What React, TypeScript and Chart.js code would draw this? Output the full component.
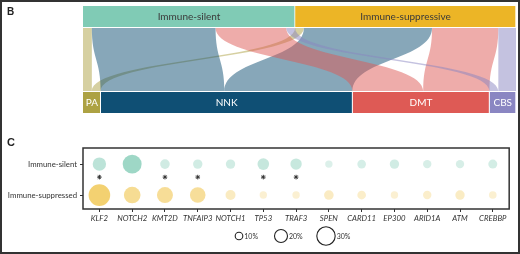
import React, { useEffect, useRef } from 'react';
import { Chart, registerables } from 'chart.js';

Chart.register(...registerables);
Chart.defaults.font.family = 'Lato, "Open Sans", sans-serif';

// ---------- Panel B data (Sankey) ----------
const immuneGroups = ['Immune-silent', 'Immune-suppressive'];
const carcinogens = ['PA', 'NNK', 'DMT', 'CBS'];
// counts per carcinogen: [to Immune-silent, to Immune-suppressive]
const flowPA = [2, 2];
const flowNNK = [28, 29];
const flowDMT = [16, 15];
const flowCBS = [2, 4];
const flows = [flowPA, flowNNK, flowDMT, flowCBS];

// ---------- Panel C data (bubbles) ----------
const genes = ['KLF2', 'NOTCH2', 'KMT2D', 'TNFAIP3', 'NOTCH1', 'TP53', 'TRAF3', 'SPEN', 'CARD11', 'EP300', 'ARID1A', 'ATM', 'CREBBP'];
const rowLabels = ['Immune-suppressed', 'Immune-silent']; // y = 0, y = 1
const silentFreq = [20.7, 31, 13.7, 13.3, 13.3, 17.4, 17, 9.6, 11.9, 13.3, 11.5, 11.5, 12.6];
const suppressedFreq = [36, 26.7, 25.6, 24.8, 14.4, 9.6, 9.6, 13.7, 11.9, 9.6, 11.5, 13.3, 10];
const significantGenes = ['KLF2', 'KMT2D', 'TNFAIP3', 'TP53', 'TRAF3'];
const legendSizes = [10, 20, 30];

// ---------- styles ----------
const groupColors = ['#80cbb5', '#ecb526'];
const groupText = ['#3a3a3a', '#3a3a3a'];
const carcColors = ['#ada243', '#0f4f74', '#de5a55', '#8a86c2'];
const flowColors = ['rgba(173,162,67,0.5)', 'rgba(15,79,116,0.5)', 'rgba(222,90,85,0.5)', 'rgba(138,134,194,0.5)'];
const BAR_H = 21;

const radiusFor = (p: number) => 1.1 + 0.27 * p;
const alphaFor = (p: number) => Math.min(1, 0.05 + 0.02 * p);

function SankeyPanel() {
  const ref = useRef<HTMLCanvasElement>(null);
  useEffect(() => {
    const groupTotals = immuneGroups.map((_, g) => flows.reduce((s, f) => s + f[g], 0));
    const carcTotals = flows.map((f) => f.reduce((s, v) => s + v, 0));
    const total = carcTotals.reduce((s, v) => s + v, 0);

    const datasets: any[] = [
      ...immuneGroups.map((name, g) => ({
        label: name,
        data: [groupTotals[g], null],
        backgroundColor: groupColors[g],
        textColor: groupText[g],
        clip: false,
      })),
      ...carcinogens.map((name, c) => ({
        label: name,
        data: [null, carcTotals[c]],
        backgroundColor: carcColors[c],
        textColor: '#ffffff',
        clip: false,
      })),
    ];

    const flowPlugin = {
      id: 'flows',
      beforeDatasetsDraw(chart: any) {
        const { ctx } = chart;
        const xs = chart.scales.x;
        const ys = chart.scales.y;
        const yt = ys.getPixelForValue(0) + BAR_H / 2 + 1;
        const yb = ys.getPixelForValue(1) - BAR_H / 2 - 1;
        const ym = (yt + yb) / 2;
        const topCursor: number[] = [];
        let acc = 0;
        groupTotals.forEach((t, g) => {
          topCursor[g] = acc;
          acc += t;
        });
        let bottomAcc = 0;
        ctx.save();
        flows.forEach((f, c) => {
          f.forEach((v, g) => {
            const b0 = xs.getPixelForValue(bottomAcc);
            const b1 = xs.getPixelForValue(bottomAcc + v);
            const t0 = xs.getPixelForValue(topCursor[g]);
            const t1 = xs.getPixelForValue(topCursor[g] + v);
            bottomAcc += v;
            topCursor[g] += v;
            ctx.beginPath();
            ctx.moveTo(b0, yb);
            ctx.bezierCurveTo(b0, ym, t0, ym, t0, yt);
            ctx.lineTo(t1, yt);
            ctx.bezierCurveTo(t1, ym, b1, ym, b1, yb);
            ctx.closePath();
            ctx.fillStyle = flowColors[c];
            ctx.fill();
          });
        });
        ctx.restore();
      },
      afterDatasetsDraw(chart: any) {
        const { ctx } = chart;
        ctx.save();
        ctx.font = '10px Lato, sans-serif';
        ctx.textAlign = 'center';
        ctx.textBaseline = 'middle';
        chart.data.datasets.forEach((ds: any, i: number) => {
          const meta = chart.getDatasetMeta(i);
          meta.data.forEach((el: any, j: number) => {
            if (ds.data[j] == null) return;
            const cx = (el.x + el.base) / 2;
            ctx.fillStyle = ds.textColor;
            ctx.fillText(ds.label, cx, el.y + 0.5);
          });
        });
        ctx.restore();
      },
    };

    const chart = new Chart(ref.current!, {
      type: 'bar',
      data: { labels: ['immune', 'carcinogen'], datasets },
      options: {
        indexAxis: 'y',
        animation: false,
        responsive: false,
        devicePixelRatio: 1,
        events: [],
        layout: { padding: { left: 83, right: 4, top: 16.5, bottom: 125 - 102.5 } },
        plugins: { legend: { display: false }, tooltip: { enabled: false } },
        datasets: { bar: { barThickness: BAR_H, borderWidth: { right: 1, left: 0, top: 0, bottom: 0 }, borderColor: '#ffffff', borderSkipped: false } as any },
        scales: {
          x: { type: 'linear', min: 0, max: total, stacked: true, display: false },
          y: { type: 'category', stacked: true, offset: false, display: false },
        },
      },
      plugins: [flowPlugin],
    } as any);
    return () => chart.destroy();
  }, []);
  return <canvas ref={ref} width={520} height={125} style={{ position: 'absolute', left: 0, top: 0 }} />;
}

function BubblePanel() {
  const ref = useRef<HTMLCanvasElement>(null);
  useEffect(() => {
    const teal = '110,195,170';
    const yellow = '240,195,70';
    const boxPlugin = {
      id: 'box',
      afterDraw(chart: any) {
        const { ctx, chartArea: a } = chart;
        ctx.save();
        ctx.strokeStyle = '#333';
        ctx.lineWidth = 1.5;
        ctx.strokeRect(a.left, a.top, a.right - a.left, a.bottom - a.top);
        // size legend
        const centers = [239, 281, 326];
        const cy = 111;
        ctx.lineWidth = 1.1;
        ctx.strokeStyle = '#222';
        ctx.fillStyle = '#333';
        ctx.font = '7px Lato, sans-serif';
        ctx.textBaseline = 'middle';
        ctx.textAlign = 'left';
        legendSizes.forEach((p, i) => {
          const r = radiusFor(p);
          ctx.beginPath();
          ctx.arc(centers[i], cy, r, 0, Math.PI * 2);
          ctx.stroke();
          ctx.fillText(p + '%', centers[i] + r + 1.5, cy + 0.5);
        });
        ctx.restore();
      },
    };

    const chart = new Chart(ref.current!, {
      type: 'bubble',
      data: {
        datasets: [
          {
            label: rowLabels[1],
            data: genes.map((g, i) => ({ x: g, y: 1, r: radiusFor(silentFreq[i]) })),
            backgroundColor: silentFreq.map((p) => `rgba(${teal},${alphaFor(p)})`),
            borderWidth: 0,
          },
          {
            label: rowLabels[0],
            data: genes.map((g, i) => ({ x: g, y: 0, r: radiusFor(suppressedFreq[i]) })),
            backgroundColor: suppressedFreq.map((p) => `rgba(${yellow},${alphaFor(p)})`),
            borderWidth: 0,
          },
          {
            label: 'significant',
            data: significantGenes.map((g) => ({ x: g, y: 0.58, r: 2.3 })),
            pointStyle: 'star',
            borderColor: '#333',
            backgroundColor: '#333',
            borderWidth: 1,
          },
        ],
      },
      options: {
        animation: false,
        responsive: false,
        devicePixelRatio: 1,
        events: [],
        layout: { padding: { left: 0, right: 8, top: 23, bottom: 129 - 84 - 20 } },
        plugins: { legend: { display: false }, tooltip: { enabled: false } },
        scales: {
          x: {
            type: 'category',
            labels: genes,
            offset: true,
            ticks: { font: { size: 7.8, style: 'italic' }, color: '#333', padding: 2, maxRotation: 0, autoSkip: false },
            grid: { drawOnChartArea: false, tickLength: 3, color: '#333' },
            border: { display: false },
            afterFit: (s: any) => { s.height = 20; },
          },
          y: {
            type: 'linear',
            min: -0.45,
            max: 1.52,
            afterBuildTicks: (axis: any) => { axis.ticks = [{ value: 0 }, { value: 1 }]; },
            ticks: { callback: (v: any) => rowLabels[v], font: { size: 7.8 }, color: '#333', padding: 3 },
            grid: { drawOnChartArea: false, tickLength: 3, color: '#333' },
            border: { display: false },
            afterFit: (s: any) => { s.width = 83; },
          },
        },
      },
      plugins: [boxPlugin],
    } as any);
    return () => chart.destroy();
  }, []);
  return <canvas ref={ref} width={520} height={129} style={{ position: 'absolute', left: 0, top: 125 }} />;
}

export default function App() {
  const letter: React.CSSProperties = {
    position: 'absolute',
    left: 7,
    fontFamily: '"Liberation Sans", Arial, sans-serif',
    fontWeight: 'bold',
    color: '#222',
    lineHeight: 1,
  };
  return (
    <div style={{ position: 'absolute', left: 0, top: 0, width: 520, height: 254, background: '#fff', overflow: 'hidden' }}>
      <SankeyPanel />
      <BubblePanel />
      <div style={{ ...letter, top: 7, fontSize: 10 }}>B</div>
      <div style={{ ...letter, top: 137, fontSize: 11 }}>C</div>
      <div style={{ position: 'absolute', left: 0, top: 0, width: 520, height: 254, boxSizing: 'border-box', border: '2px solid #333', pointerEvents: 'none' }} />
    </div>
  );
}
